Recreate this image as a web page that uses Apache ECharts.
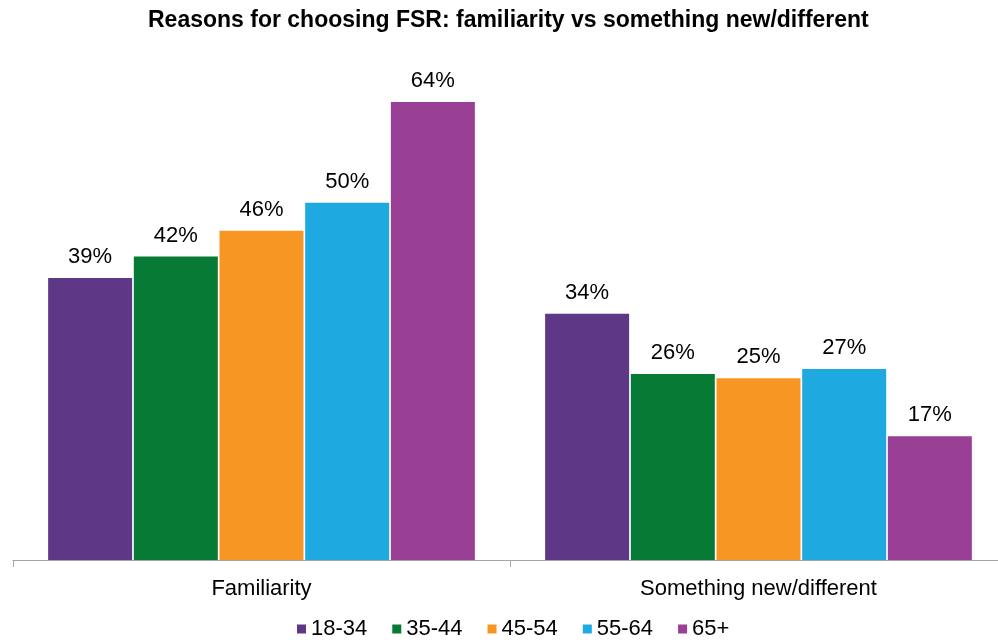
<!DOCTYPE html>
<html><head><meta charset="utf-8">
<script src="https://cdn.jsdelivr.net/npm/echarts@6/dist/echarts.min.js"></script>
<style>html,body{margin:0;padding:0;background:#fff}#c{width:998px;height:642px}</style>
</head><body><div id="c"></div>
<script>
const title = 'Reasons for choosing FSR: familiarity vs something new/different';
const categories = ['Familiarity', 'Something new/different'];
const seriesNames = ['18-34', '35-44', '45-54', '55-64', '65+'];
const v18_34 = [39.4, 34.4];
const v35_44 = [42.4, 26.0];
const v45_54 = [46.0, 25.4];
const v55_64 = [49.9, 26.7];
const v65p = [64.0, 17.3];
const values = [v18_34, v35_44, v45_54, v55_64, v65p];
const colors = ['#5f3787', '#077a36', '#f79622', '#1fa9e1', '#9a3f96'];
const font = 'Liberation Sans, Arial, sans-serif';

const chart = echarts.init(document.getElementById('c'));
chart.setOption({
  animation: false,
  title: {text: title, left: 143, top: 4, textStyle: {fontFamily: font, fontSize: 23, fontWeight: 'bold', color: '#000'}},
  legend: {
    top: 613, left: 292, itemWidth: 9, itemHeight: 9, itemGap: 25,
    icon: 'rect',
    textStyle: {fontFamily: font, fontSize: 22, color: '#000'},
    data: seriesNames
  },
  grid: {left: 13, width: 994, top: 59, bottom: 82, outerBoundsMode: 'none', containLabel: false},
  xAxis: {
    type: 'category', data: categories,
    axisLine: {lineStyle: {color: '#a6a6a6', width: 1}},
    axisTick: {show: true, interval: 0, length: 7, lineStyle: {color: '#a6a6a6'}},
    axisLabel: {fontFamily: font, fontSize: 22, color: '#000', margin: 18}
  },
  yAxis: {type: 'value', min: 0, max: 70, show: false, splitLine: {show: false}},
  series: seriesNames.map((n, i) => ({
    name: n, type: 'bar', data: values[i], barWidth: 84, barGap: '2%',
    itemStyle: {color: colors[i]},
    label: {show: true, position: 'top', distance: 10, fontFamily: font, fontSize: 22, color: '#000',
      formatter: p => Math.round(p.value) + '%'}
  }))
});
</script></body></html>
